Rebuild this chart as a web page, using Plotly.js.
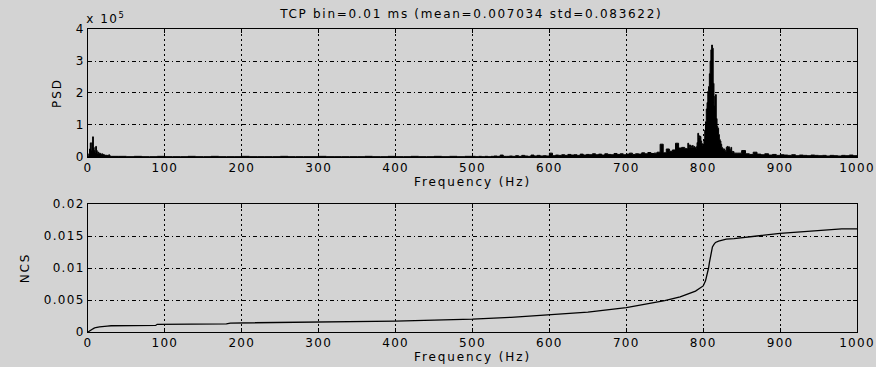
<!DOCTYPE html>
<html>
<head>
<meta charset="utf-8">
<script src="https://cdn.plot.ly/plotly-3.0.1.min.js"></script>
<style>
html,body{margin:0;padding:0;background:#d3d3d3;}
#chart{width:876px;height:367px;}
#chart g.xtick text, #chart g.ytick text, #chart g.x2tick text, #chart g.y2tick text{letter-spacing:1.3px;}
#chart text.xtitle, #chart text.x2title, #chart text.ytitle, #chart text.y2title{letter-spacing:1.9px;}
#chart text.gtitle{letter-spacing:1.7px;}
#chart text.annotation-text{letter-spacing:1.5px;}
</style>
</head>
<body>
<div id="chart"></div>
<script>
// ---- PSD data (values in units of 1e5), frequency segments ----
const seg1Start = 0,   seg1Step = 1;   // 0..30 Hz
const psdSeg1 = [0.02,0.1,0.25,0.44,0.2,0.45,0.63,0.3,0.2,0.15,0.33,0.2,0.12,0.15,0.1,0.12,0.1,0.08,0.1,0.07,0.08,0.06,0.05,0.06,0.04,0.05,0.03,0.07,0.04,0.02,0.02];
const seg2Start = 40,  seg2Step = 10;  // 40..500 Hz
const psdSeg2 = [0.02,0.01,0.02,0.01,0.01,0.02,0.01,0.01,0.01,0.02,
                 0.01,0.01,0.02,0.01,0.01,0.01,0.02,0.01,0.01,0.01,
                 0.01,0.02,0.01,0.01,0.01,0.01,0.02,0.01,0.01,0.01,
                 0.01,0.01,0.02,0.01,0.01,0.02,0.01,0.01,0.02,0.01,
                 0.01,0.02,0.01,0.02,0.01,0.02,0.02];
const seg3Start = 504, seg3Step = 4;   // 504..780 Hz
const psdSeg3 = [0.01,0.02,0.01,0.02,0.01,0.02,0.03,0.02,0.06,0.02,
                 0.02,0.03,0.02,0.04,0.02,0.05,0.03,0.02,0.06,0.03,0.05,0.03,0.04,0.03,0.12,
                 0.04,0.06,0.05,0.07,0.05,0.08,0.06,0.07,0.05,0.09,0.06,0.08,0.07,0.1,0.07,
                 0.09,0.06,0.1,0.08,0.07,0.11,0.08,0.1,0.07,0.09,0.12,0.08,0.1,0.09,0.13,
                 0.1,0.14,0.11,0.12,0.15,0.4,0.13,0.25,0.18,0.22,0.43,0.28,0.3,0.26,0.43];
const seg4Start = 781, seg4Step = 1;   // 781..840 Hz
const psdSeg4 = [0.38,0.3,0.37,0.34,0.3,0.36,0.28,0.33,0.3,0.25,
                 0.32,0.45,0.74,0.6,0.66,0.64,0.5,0.42,0.35,0.4,
                 0.55,0.84,1.1,1.5,1.7,2.05,2.2,2.6,3.0,3.35,
                 3.5,3.4,2.3,1.6,1.9,1.95,1.2,0.95,0.9,0.7,
                 0.55,0.5,0.4,0.3,0.27,0.22,0.25,0.2,0.18,0.3,
                 0.33,0.28,0.32,0.25,0.2,0.3,0.18,0.15,0.17,0.12];
const seg5Start = 845, seg5Step = 5;   // 845..1000 Hz
const psdSeg5 = [0.12,0.2,0.1,0.08,0.15,0.09,0.07,0.1,0.06,0.08,0.05,0.07,0.06,0.05,0.07,0.04,
                 0.06,0.05,0.04,0.06,0.05,0.04,0.05,0.03,0.05,0.04,0.03,0.05,0.04,0.06,0.04,0.03];

// ---- NCS data ----
const ncsFreq = [0,2,5,8,10,15,20,25,30,50,80,88,90,100,150,180,185,200,250,300,350,400,450,500,550,600,650,700,730,750,770,780,790,795,800,803,805,807,808,809,810,811,812,814,816,820,825,830,840,850,870,900,920,950,970,980,1000];
const ncsVal  = [0,0.0002,0.0004,0.0006,0.0007,0.0008,0.0009,0.00092,0.00098,0.001,0.00102,0.00103,0.0012,0.00122,0.00125,0.00127,0.0014,0.00142,0.00145,0.0015,0.0016,0.0017,0.00185,0.002,0.0023,0.00265,0.0031,0.0038,0.0044,0.0049,0.0055,0.0059,0.0064,0.0068,0.0072,0.008,0.0088,0.01,0.0108,0.0116,0.0123,0.0129,0.0133,0.0137,0.014,0.0142,0.0144,0.0145,0.0146,0.0147,0.015,0.0154,0.0156,0.0158,0.016,0.0161,0.0161];

const xTicks = [0,100,200,300,400,500,600,700,800,900,1000];
const psdTicks = [0,1,2,3,4];
const ncsTicks = [0,0.005,0.01,0.015,0.02];
const ncsTickText = ['0','0.005','0.01','0.015','0.02'];

const titleText = 'TCP bin=0.01 ms (mean=0.007034 std=0.083622)';

// build PSD frequency axis
const psdFreq = [], psdVal = [];
[[seg1Start,seg1Step,psdSeg1],[seg2Start,seg2Step,psdSeg2],[seg3Start,seg3Step,psdSeg3],[seg4Start,seg4Step,psdSeg4],[seg5Start,seg5Step,psdSeg5]].forEach(([s,st,arr])=>{
  arr.forEach((v,i)=>{psdFreq.push(s+i*st); psdVal.push(v);});
});

const FONT = 'DejaVu Sans, sans-serif';
const BG = '#d3d3d3';

const axCommon = {
  showline:true, mirror:'ticks', linecolor:'#000', linewidth:1,
  ticks:'inside', ticklen:4, tickcolor:'#000',
  zeroline:false, showgrid:true, gridcolor:'#000', gridwidth:1,
  tickfont:{family:FONT,size:12,color:'#000'}
};

const traces = [
  {x:psdFreq, y:psdVal, type:'scatter', mode:'lines', line:{color:'#000',width:1,shape:'hv'},
   fill:'tozeroy', fillcolor:'#000', xaxis:'x', yaxis:'y', hoverinfo:'skip'},
  {x:ncsFreq, y:ncsVal, type:'scatter', mode:'lines', line:{color:'#000',width:1.3},
   xaxis:'x2', yaxis:'y2', hoverinfo:'skip'}
];

const layout = {
  width:876, height:367,
  paper_bgcolor:BG, plot_bgcolor:BG,
  margin:{l:88,r:19,t:29,b:35},
  showlegend:false,
  title:{text:titleText, font:{family:FONT,size:12,color:'#000'}, x:0.538, xanchor:'center', y:0.963, yanchor:'middle'},
  xaxis: Object.assign({}, axCommon, {domain:[0,1], anchor:'y', range:[0,1000], tickvals:xTicks, griddash:'2px,3px',
    title:{text:'Frequency (Hz)', font:{family:FONT,size:12,color:'#000'}, standoff:1}}),
  yaxis: Object.assign({}, axCommon, {domain:[0.5776,1], anchor:'x', range:[0,4], tickvals:psdTicks, griddash:'4px,3px,1px,3px',
    title:{text:'PSD', font:{family:FONT,size:12,color:'#000'}, standoff:12}}),
  xaxis2: Object.assign({}, axCommon, {domain:[0,1], anchor:'y2', range:[0,1000], tickvals:xTicks, griddash:'2px,3px',
    title:{text:'Frequency (Hz)', font:{family:FONT,size:12,color:'#000'}, standoff:1}}),
  yaxis2: Object.assign({}, axCommon, {domain:[0,0.4224], anchor:'x2', range:[0,0.02], tickvals:ncsTicks, ticktext:ncsTickText, griddash:'4px,3px,1px,3px',
    title:{text:'NCS', font:{family:FONT,size:12,color:'#000'}, standoff:18}}),
  annotations:[
    {text:'x 10<sup>5</sup>', xref:'paper', yref:'paper', x:0, y:1, xanchor:'left', yanchor:'bottom', yshift:1, showarrow:false,
     font:{family:FONT,size:12,color:'#000'}}
  ]
};

Plotly.newPlot('chart', traces, layout, {staticPlot:true, displayModeBar:false});
</script>
</body>
</html>
